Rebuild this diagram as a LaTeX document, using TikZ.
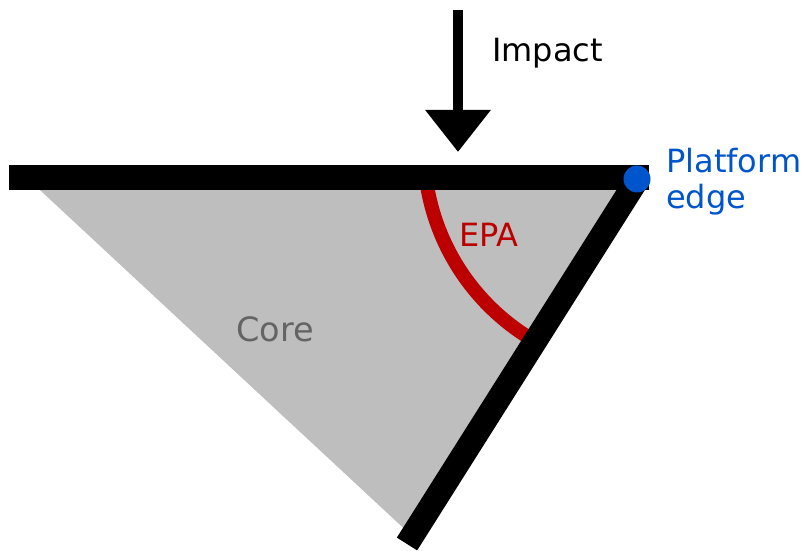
\documentclass[tikz,border=0pt]{standalone}
\usepackage{fontspec}
\setmainfont{DejaVu Sans}
\usetikzlibrary{arrows.meta}

\definecolor{coregray}{RGB}{190,190,190}
\definecolor{coretext}{RGB}{100,100,100}
\definecolor{epared}{RGB}{188,0,0}
\definecolor{edgeblue}{RGB}{0,85,204}

\begin{document}
\begin{tikzpicture}[x=1pt,y=1pt,
  lbl/.style={inner sep=0pt, font=\fontsize{32}{36}\selectfont},
  beam/.style={line width=25pt, line cap=butt},
  wall/.style={line width=24pt, line cap=butt},
  force/.style={line width=10pt, -{Triangle[width=63pt,length=42pt]}},
  angle arc/.style={draw=epared, line width=14pt, line cap=butt}]
  \useasboundingbox (0,0) rectangle (806,551);

  % key points
  \coordinate (leftend) at (9,373.5);
  \coordinate (rightend) at (649,373.5);
  \coordinate (edgept) at (637,372);
  \coordinate (walltop) at (637,371);
  \coordinate (wallbot) at (407,7);
  \coordinate (impacttop) at (458,541);
  \coordinate (impacttip) at (458,399);

  % core wedge
  \fill[coregray] (27,373) -- (637,373) -- (412,15) -- cycle;

  % EPA angle arc
  \draw[angle arc] (646,402) ++(187:222) arc[start angle=187, end angle=238, radius=222];

  % platform and side wall
  \draw[beam] (leftend) -- (rightend);
  \draw[wall] (walltop) -- (wallbot);

  % platform edge marker
  \fill[edgeblue] (edgept) circle[radius=13.5];

  % impact arrow
  \draw[force] (impacttop) -- (impacttip);

  % labels
  \node[lbl, anchor=base west] (impact) at (492,489) {Impact};
  \node[lbl, anchor=base west, text=epared] (epa) at (459,304) {EPA};
  \node[lbl, anchor=base west, text=coretext, font=\fontsize{33.5}{36}\selectfont] (core) at (236,209) {Core};
  \node[lbl, anchor=north west, align=left, text=edgeblue] (edge) at (666,403) {Platform\\edge};
\end{tikzpicture}
\end{document}
